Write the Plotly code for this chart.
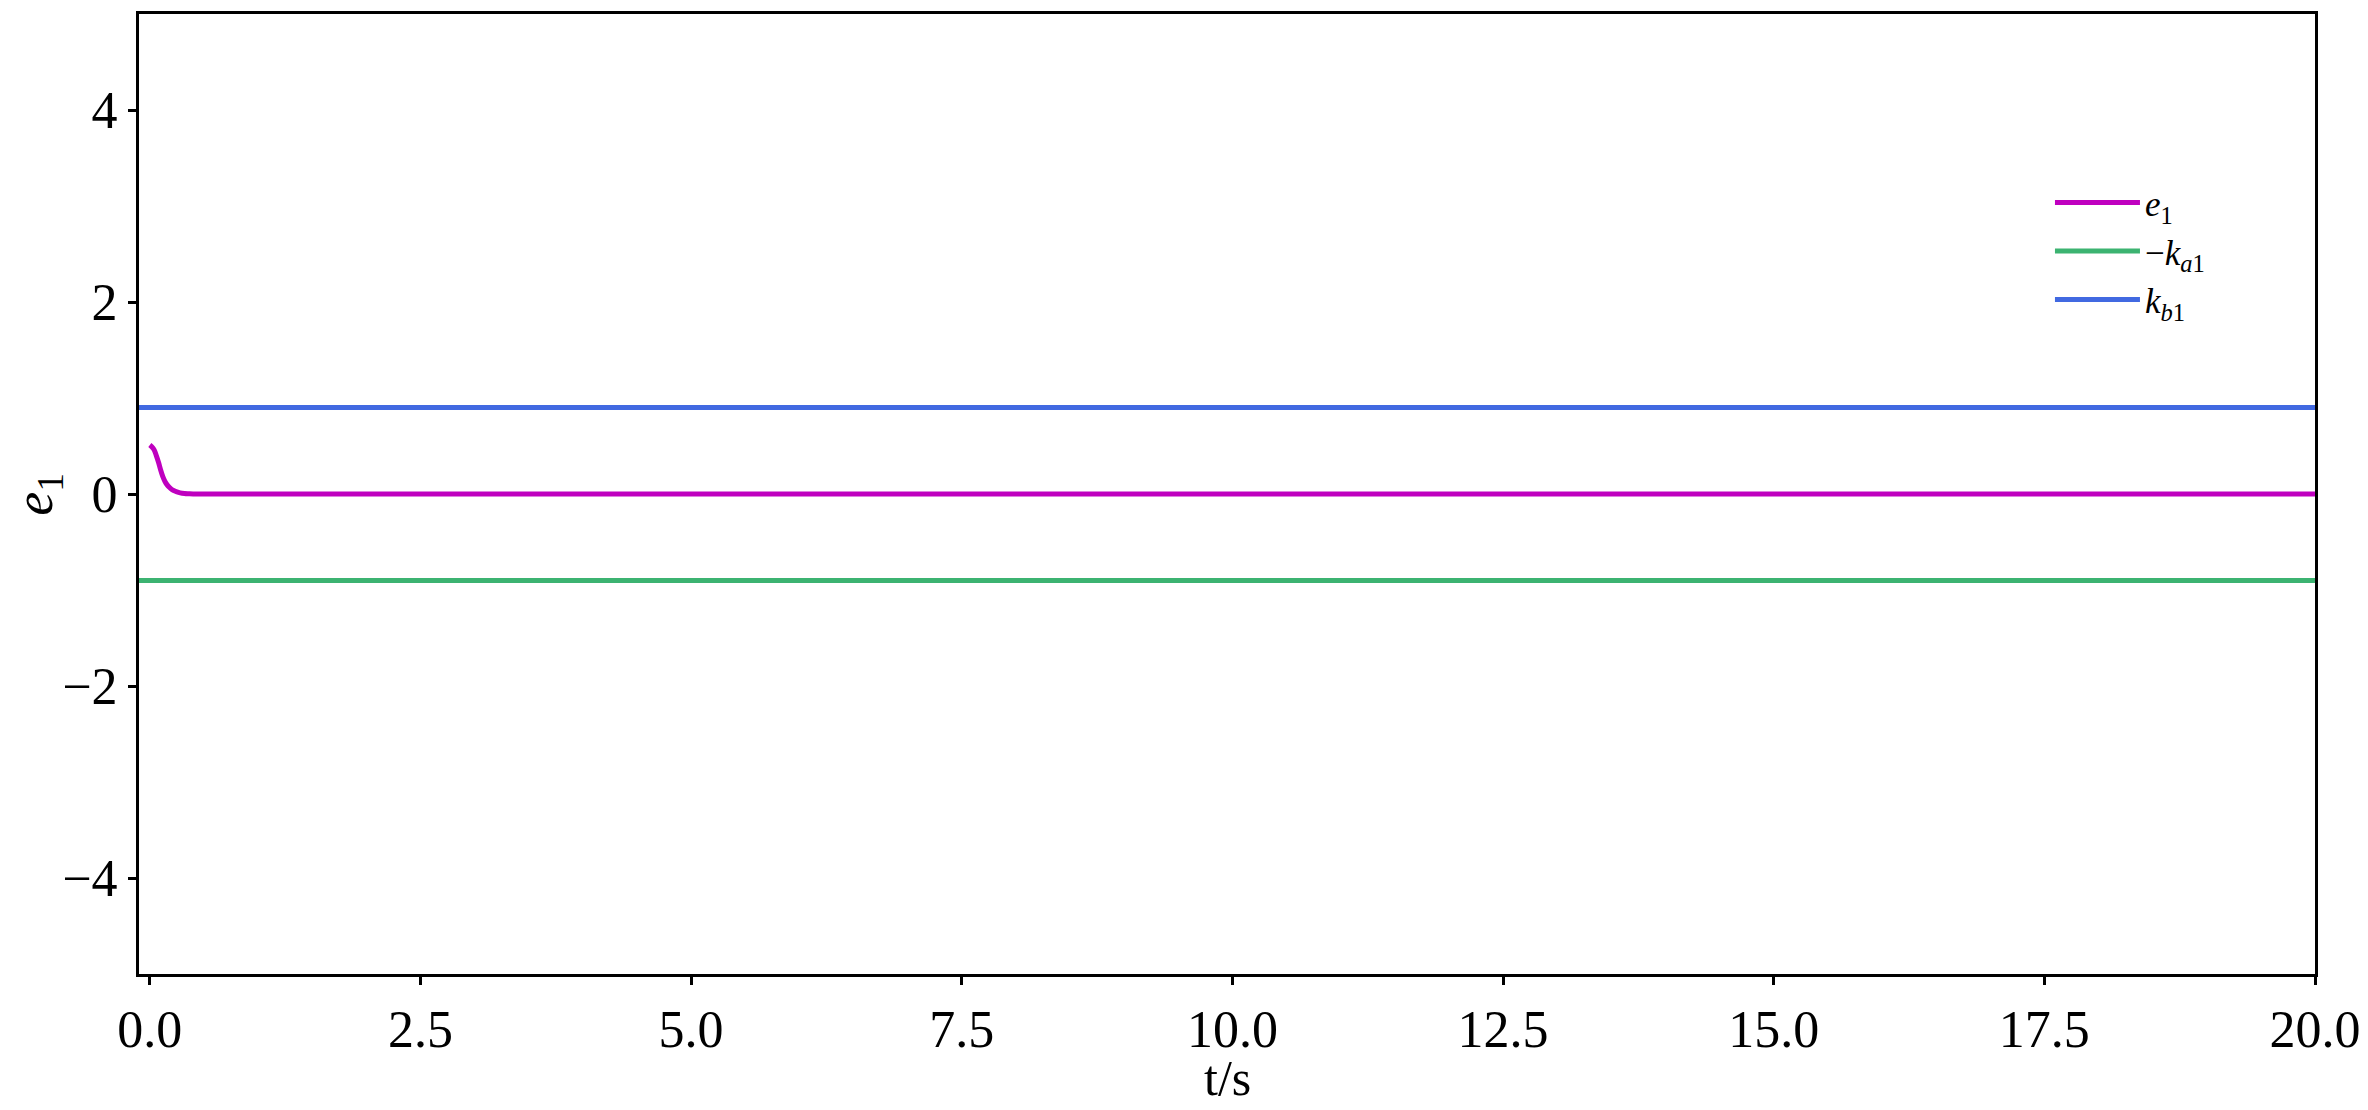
import plotly.graph_objects as go

# time samples (s) and tracking error e1
t = [0.0, 0.02, 0.04, 0.06, 0.08, 0.10, 0.12, 0.14, 0.16, 0.18, 0.20, 0.22, 0.25,
     0.28, 0.32, 0.36, 0.40, 1.0, 2.5, 5.0, 7.5, 10.0, 12.5, 15.0, 17.5, 20.0]
e1 = [0.51, 0.49, 0.46, 0.40, 0.33, 0.25, 0.18, 0.13, 0.095, 0.07, 0.05, 0.037, 0.022,
      0.012, 0.005, 0.002, 0.0, 0.0, 0.0, 0.0, 0.0, 0.0, 0.0, 0.0, 0.0, 0.0]

t_bound = [-0.1, 20.0]
kb1 = [0.9, 0.9]
neg_ka1 = [-0.9, -0.9]

x_ticks = [0, 2.5, 5, 7.5, 10, 12.5, 15, 17.5, 20]
y_ticks = [-4, -2, 0, 2, 4]

font = "Liberation Serif"

fig = go.Figure()
fig.add_trace(go.Scatter(x=t, y=e1, mode="lines", name="<i>e</i><sub>1</sub>",
                         line=dict(color="#BF00BF", width=5, shape="spline")))
fig.add_trace(go.Scatter(x=t_bound, y=neg_ka1, mode="lines",
                         name="\u2212<i>k</i><sub><i>a</i>1</sub>",
                         line=dict(color="#3CB371", width=5)))
fig.add_trace(go.Scatter(x=t_bound, y=kb1, mode="lines",
                         name="<i>k</i><sub><i>b</i>1</sub>",
                         line=dict(color="#4169E1", width=5)))

axis_style = dict(showline=True, linecolor="black", linewidth=3, mirror=True,
                  ticks="outside", ticklen=8, tickwidth=2.5, tickcolor="black",
                  showgrid=False, zeroline=False, automargin=False,
                  tickfont=dict(family=font, size=52, color="black"))

fig.update_xaxes(range=[-0.1, 20], tickvals=x_ticks, tickformat=".1f", **axis_style)
fig.update_yaxes(range=[-5, 5], tickvals=y_ticks, **axis_style)

# axis titles
fig.add_annotation(text="t/s", xref="paper", yref="paper", x=0.5, y=-0.108,
                   xanchor="center", yanchor="middle", showarrow=False,
                   font=dict(family=font, size=50, color="black"))
fig.add_annotation(text="<i>e</i><sub>1</sub>", xref="paper", yref="paper",
                   x=-0.047, y=0.5, xanchor="center", yanchor="middle",
                   textangle=-90, showarrow=False,
                   font=dict(family=font, size=54, color="black"))

# page body has an 8px margin, so the figure is made 8px smaller
fig.update_layout(
    width=2360, height=1102,
    margin=dict(l=131, r=53, t=6, b=136),
    plot_bgcolor="white", paper_bgcolor="white",
    legend=dict(x=0.8782, y=0.834, xanchor="left", yanchor="top",
                font=dict(family=font, size=35, color="black"),
                bgcolor="rgba(0,0,0,0)", itemwidth=85),
)

fig.write_html("out.html")
